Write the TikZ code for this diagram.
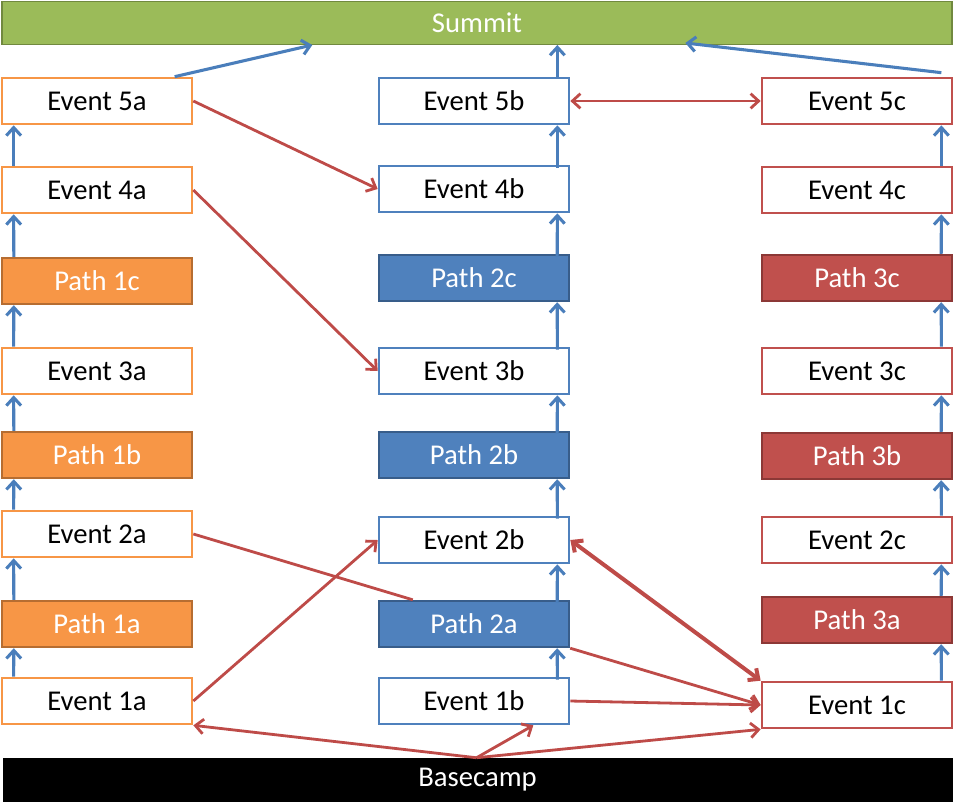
\documentclass[tikz,border=0pt]{standalone}
\usepackage{fontspec}
\setmainfont{Carlito}
\usetikzlibrary{arrows.meta,calc}
\definecolor{orfill}{RGB}{247,150,70}
\definecolor{ordark}{RGB}{182,109,49}
\definecolor{blfill}{RGB}{79,129,189}
\definecolor{bldark}{RGB}{56,93,138}
\definecolor{rdfill}{RGB}{192,80,77}
\definecolor{rddark}{RGB}{140,56,54}
\definecolor{grfill}{RGB}{155,187,89}
\definecolor{grdark}{RGB}{113,137,63}
\definecolor{arblue}{RGB}{74,126,187}
\definecolor{arred}{RGB}{190,75,72}
\begin{document}
\begin{tikzpicture}[
        x=0.75pt, y=-0.75pt,
        box/.style={rectangle, minimum width=142.5pt, minimum height=34.5pt,
                    inner sep=0pt, font=\fontsize{21.5}{25}\selectfont},
        evt/.style={box, fill=white, line width=2pt},
        pth/.style={box, text=white, line width=1.8pt},
        bar/.style={rectangle, minimum width=712.5pt, minimum height=32pt,
                    inner sep=0pt, text=white, font=\fontsize{21.5}{25}\selectfont},
        up/.style={-{Straight Barb[length=6pt,width=11pt]}, draw=arblue, line width=2.3pt},
        link/.style={-{Straight Barb[length=6pt,width=11pt]}, draw=arred, line width=2.1pt},
        twoway/.style={{Straight Barb[length=6pt,width=11pt]}-{Straight Barb[length=6pt,width=11pt]},
                       draw=arred, line width=2.1pt},
      ]
        \useasboundingbox (0,0) rectangle (956,808);

        % summit and basecamp
        \node[bar, fill=grfill, draw=grdark, line width=1pt] (summit) at (477,23) {Summit};
        \node[bar, fill=black, minimum height=33pt] (basecamp) at (477.5,780) {Basecamp};

        % column a
        \node[evt, draw=orfill] (e5a) at (97,101) {Event 5a};
        \node[evt, draw=orfill] (e4a) at (97,190) {Event 4a};
        \node[pth, fill=orfill, draw=ordark] (p1c) at (97,281) {Path 1c};
        \node[evt, draw=orfill] (e3a) at (97,371) {Event 3a};
        \node[pth, fill=orfill, draw=ordark] (p1b) at (97,455) {Path 1b};
        \node[evt, draw=orfill] (e2a) at (97,534) {Event 2a};
        \node[pth, fill=orfill, draw=ordark] (p1a) at (97,624) {Path 1a};
        \node[evt, draw=orfill] (e1a) at (97,701) {Event 1a};

        % column b
        \node[evt, draw=blfill] (e5b) at (474,101) {Event 5b};
        \node[evt, draw=blfill] (e4b) at (474,189) {Event 4b};
        \node[pth, fill=blfill, draw=bldark] (p2c) at (474,278) {Path 2c};
        \node[evt, draw=blfill] (e3b) at (474,371) {Event 3b};
        \node[pth, fill=blfill, draw=bldark] (p2b) at (474,455) {Path 2b};
        \node[evt, draw=blfill] (e2b) at (474,540) {Event 2b};
        \node[pth, fill=blfill, draw=bldark] (p2a) at (474,624) {Path 2a};
        \node[evt, draw=blfill] (e1b) at (474,701) {Event 1b};

        % column c
        \node[evt, draw=rdfill] (e5c) at (857,101) {Event 5c};
        \node[evt, draw=rdfill] (e4c) at (857,190) {Event 4c};
        \node[pth, fill=rdfill, draw=rddark] (p3c) at (857,278) {Path 3c};
        \node[evt, draw=rdfill] (e3c) at (857,371) {Event 3c};
        \node[pth, fill=rdfill, draw=rddark] (p3b) at (857,456) {Path 3b};
        \node[evt, draw=rdfill] (e2c) at (857,540) {Event 2c};
        \node[pth, fill=rdfill, draw=rddark] (p3a) at (857,620) {Path 3a};
        \node[evt, draw=rdfill] (e1c) at (857,705) {Event 1c};

        % climbing up each column
        \foreach \lo/\hi in {e1a/p1a, p1a/e2a, e2a/p1b, p1b/e3a, e3a/p1c, p1c/e4a, e4a/e5a}
          \draw[up] ($(\lo.north west)+(13,0)$) -- ($(\hi.south west)+(13,0)$);
        \foreach \lo/\hi in {e1b/p2a, p2a/e2b, e2b/p2b, p2b/e3b, e3b/p2c, p2c/e4b, e4b/e5b}
          \draw[up] ($(\lo.north east)+(-13,3)$) -- ($(\hi.south east)+(-13,0)$);
        \foreach \lo/\hi in {e1c/p3a, p3a/e2c, e2c/p3b, p3b/e3c, e3c/p3c, p3c/e4c, e4c/e5c}
          \draw[up] ($(\lo.north east)+(-12,0)$) -- ($(\hi.south east)+(-12,0)$);

        % to the summit
        \draw[up] ($(e5a.north west)+(174,0)$) -- ($(summit.south west)+(311,0)$);
        \draw[up] ($(e5b.north east)+(-13,0)$) coordinate (t5b) -- (t5b |- summit.south);
        \draw[up] ($(e5c.north east)+(-12,-4)$) -- ($(summit.south west)+(684,-2)$);

        % cross links
        \draw[twoway] (e5b.east) -- (e5c.west);
        \draw[link] (e5a.east) -- (e4b.west);
        \draw[link] (e4a.east) -- (e3b.west);
        \draw[arred, line width=2.1pt] (e2a.east) -- ($(p2a.north west)+(35,0)$);
        \draw[link] (e1a.east) -- (e2b.west);
        \draw[twoway, line width=3pt] (e2b.east) -- (e1c.north west);
        \draw[link] (p2a.south east) -- (e1c.west);
        \draw[link] (e1b.east) -- (e1c.west);

        % from the basecamp
        \draw[link] ($(basecamp.north)+(-1,0)$) -- (e1a.south east);
        \draw[link] ($(basecamp.north)+(-1,0)$) -- ($(e1b.south east)+(-37,0)$);
        \draw[link] ($(basecamp.north)+(-1,0)$) -- (e1c.south west);
      \end{tikzpicture}
\end{document}
